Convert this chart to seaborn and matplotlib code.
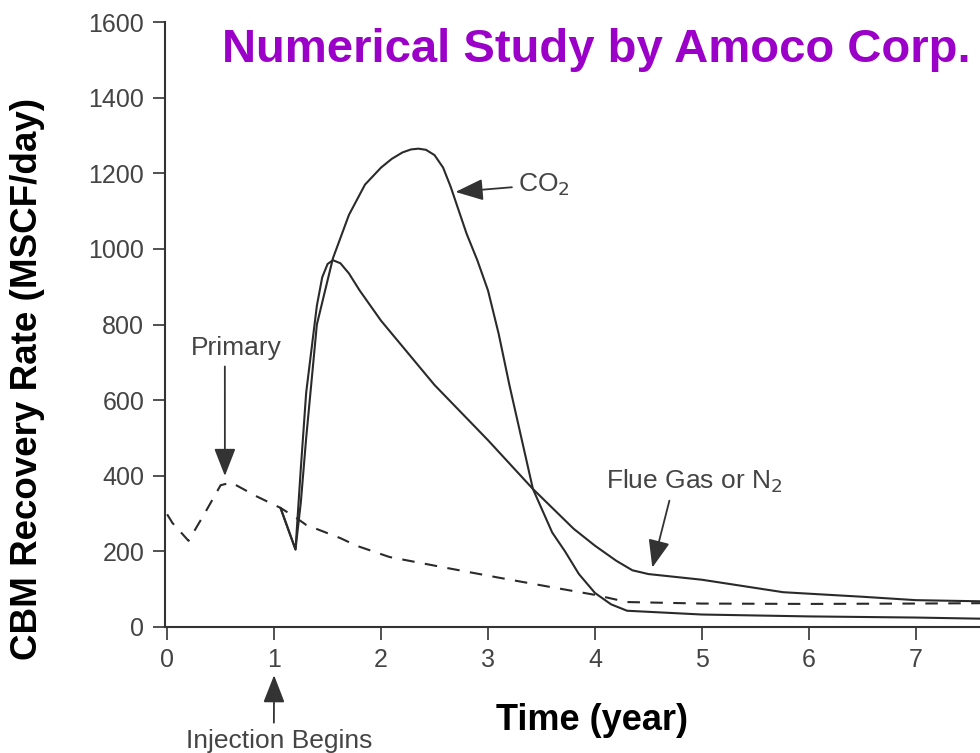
import numpy as np
import pandas as pd
import matplotlib
matplotlib.use("Agg")
import matplotlib.pyplot as plt
import seaborn as sns

# Primary recovery (no injection), dashed
primary_t = [0.0, 0.05, 0.2, 0.35, 0.5, 0.6, 0.84, 1.06, 1.2, 1.3, 1.62, 1.77, 2.08, 2.58, 3.11, 3.58, 4.0, 4.3, 5.0, 6.0, 7.0, 7.6]
primary_v = [298, 275, 228, 300, 375, 382, 345, 315, 290, 270, 235, 215, 185, 158, 130, 106, 85, 66, 62, 61, 62, 63]

# CO2 injection, solid
co2_t = [1.06, 1.2, 1.25, 1.3, 1.4, 1.55, 1.7, 1.85, 2.0, 2.1, 2.2, 2.28, 2.35, 2.42, 2.5, 2.58, 2.65, 2.8, 2.9, 3.0, 3.1, 3.2, 3.42, 3.6, 3.72, 3.85, 4.0, 4.15, 4.3, 5.0, 6.0, 7.0, 7.6]
co2_v = [315, 205, 330, 500, 800, 975, 1090, 1170, 1215, 1238, 1255, 1263, 1265, 1262, 1248, 1215, 1165, 1040, 970, 890, 775, 640, 365, 250, 200, 140, 90, 60, 43, 33, 28, 25, 22]

# Flue gas or N2 injection, solid
flue_t = [1.06, 1.2, 1.25, 1.3, 1.4, 1.45, 1.5, 1.55, 1.62, 1.7, 1.8, 2.0, 2.5, 3.0, 3.42, 3.8, 4.0, 4.2, 4.35, 4.5, 5.0, 5.76, 6.5, 7.0, 7.6]
flue_v = [315, 205, 420, 620, 850, 925, 960, 970, 962, 935, 890, 810, 640, 494, 365, 260, 215, 175, 150, 140, 125, 92, 80, 71, 68]

x_ticks = [0, 1, 2, 3, 4, 5, 6, 7]
y_ticks = [0, 200, 400, 600, 800, 1000, 1200, 1400, 1600]

sns.set_theme(style="ticks")
plt.rcParams["font.family"] = ["Liberation Sans", "DejaVu Sans"]

fig = plt.figure(figsize=(9.8, 7.53), dpi=100)
ax = fig.add_axes([165 / 980, 1 - 627 / 753, 1 - 165 / 980, (627 - 22) / 753])

line_color = "#2a2a2a"
df_p = pd.DataFrame({"t": primary_t, "v": primary_v})
df_c = pd.DataFrame({"t": co2_t, "v": co2_v})
df_f = pd.DataFrame({"t": flue_t, "v": flue_v})

sns.lineplot(data=df_p, x="t", y="v", ax=ax, color=line_color, lw=1.5,
             linestyle=(0, (6, 5)), sort=False)
sns.lineplot(data=df_c, x="t", y="v", ax=ax, color=line_color, lw=1.5, sort=False)
sns.lineplot(data=df_f, x="t", y="v", ax=ax, color=line_color, lw=1.5, sort=False)

ax.set_xlim(-0.02, 7.6)
ax.set_ylim(0, 1600)
ax.set_xticks(x_ticks)
ax.set_yticks(y_ticks)
ax.tick_params(axis="both", labelsize=18, labelcolor="#444444", color="#333333",
               direction="out", length=9, width=1.2)
ax.tick_params(axis="x", pad=6)
ax.tick_params(axis="y", pad=6)
for side in ["top", "right"]:
    ax.spines[side].set_visible(False)
for side in ["left", "bottom"]:
    ax.spines[side].set_color("#333333")
    ax.spines[side].set_linewidth(1.5)

ax.set_xlabel("Time (year)", fontsize=26, fontweight="bold", color="black")
ax.xaxis.set_label_coords(0.524, -0.126)
ax.set_ylabel("CBM Recovery Rate (MSCF/day)", fontsize=26.5, fontweight="bold", color="black")
ax.yaxis.set_label_coords(-0.147, 0.41)

fig.text(222 / 980, 1 - 50 / 753, "Numerical Study by Amoco Corp.", fontsize=34,
         fontweight="bold", color="#9b00c8", ha="left", va="center")

arrow = dict(arrowstyle="-|>,head_length=0.9,head_width=0.35", color="#333333", lw=1.3)
ann_kw = dict(fontsize=19, color="#444444")

ax.annotate("Primary", xy=(0.54, 392), xytext=(0.65, 705), ha="center", va="bottom",
            arrowprops=dict(arrow, relpos=(0.37, 0)), **ann_kw)
ax.annotate("CO$_2$", xy=(2.67, 1150), xytext=(3.28, 1170), ha="left", va="center",
            arrowprops=arrow, **ann_kw)
ax.annotate("Flue Gas or N$_2$", xy=(4.53, 150), xytext=(4.1, 350), ha="left", va="bottom",
            arrowprops=dict(arrow, relpos=(0.37, 0)), **ann_kw)
ax.annotate("Injection Begins", xy=(1.0, -0.075), xycoords=("data", "axes fraction"),
            xytext=(1.05, -0.188), textcoords=("data", "axes fraction"),
            ha="center", va="center", arrowprops=dict(arrow, relpos=(0.47, 1)), **ann_kw)

fig.savefig("out.png", dpi=100)
